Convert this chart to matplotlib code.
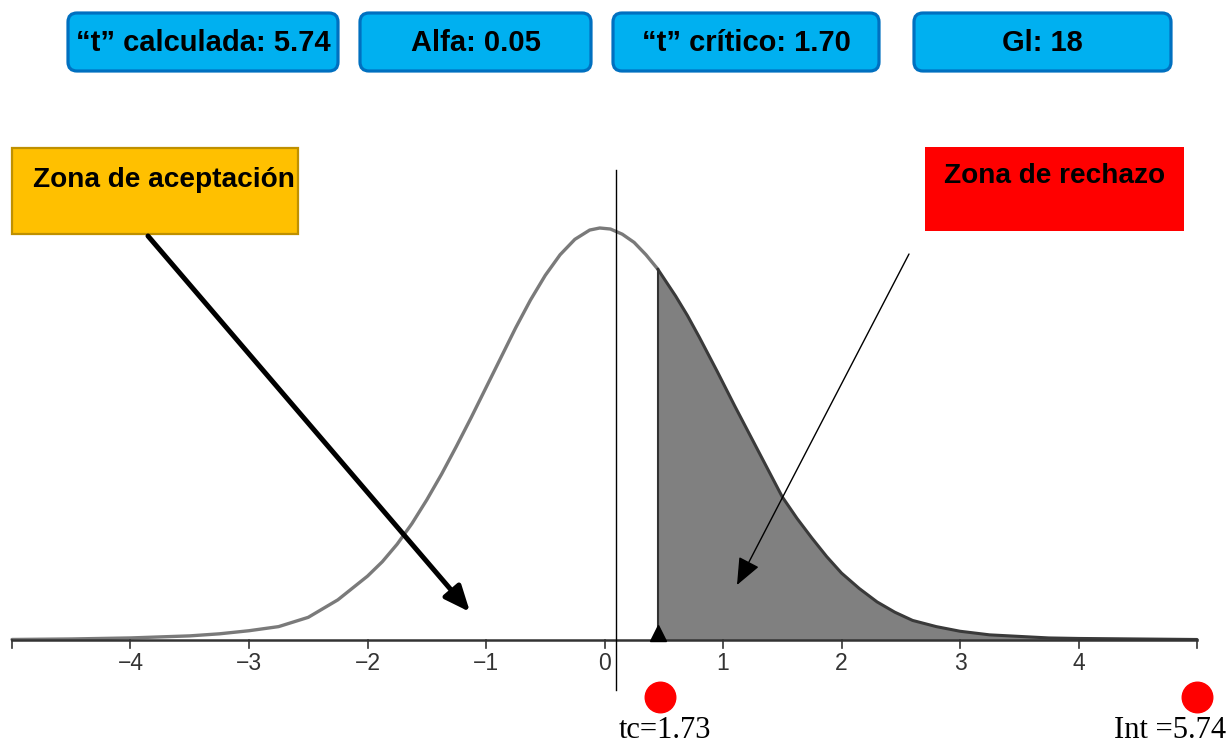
import numpy as np
import matplotlib.pyplot as plt
from matplotlib.patches import FancyBboxPatch, Rectangle

# curve (t value, height of the density)
t_vals = [-5.0, -4.5, -4.0, -3.75, -3.5, -3.25, -3.0, -2.75, -2.5, -2.25, -2.0,
          -1.875, -1.75, -1.625, -1.5, -1.375, -1.25, -1.125, -1.0, -0.875,
          -0.75, -0.625, -0.5, -0.375, -0.25, -0.125, -0.04, 0.05, 0.15, 0.25,
          0.35, 0.45, 0.6, 0.7, 0.8, 0.95, 1.1, 1.2, 1.3, 1.4, 1.5, 1.625,
          1.75, 1.875, 2.0, 2.15, 2.3, 2.45, 2.6, 2.8, 3.0, 3.25, 3.5, 3.75,
          4.0, 4.5, 5.0]
dens = [0.0005, 0.001, 0.002, 0.003, 0.004, 0.006, 0.009, 0.013, 0.022, 0.039,
        0.062, 0.076, 0.093, 0.113, 0.136, 0.161, 0.188, 0.216, 0.245, 0.274,
        0.303, 0.330, 0.354, 0.374, 0.389, 0.398, 0.400, 0.399, 0.394, 0.386,
        0.374, 0.360, 0.334, 0.315, 0.294, 0.261, 0.227, 0.205, 0.183, 0.161,
        0.139, 0.118, 0.099, 0.081, 0.065, 0.050, 0.037, 0.027, 0.019, 0.013,
        0.0085, 0.005, 0.0035, 0.002, 0.0015, 0.001, 0.0005]

t_crit = 0.45       # where the shaded zone starts on the drawing
t_line = 0.097      # thin vertical reference line
tick_pos = [-5, -4, -3, -2, -1, 0, 1, 2, 3, 4, 5]
tick_lab = ["", "−4", "−3", "−2", "−1", "0", "1", "2", "3", "4", ""]
dot_x = [0.468, 5.0]
dot_lab = ["tc=1.73", "Int =5.74"]

top_boxes = ["“t” calculada: 5.74", "Alfa: 0.05", "“t” crítico: 1.70", "Gl: 18"]

W, H = 1227, 745
fig = plt.figure(figsize=(W / 100, H / 100), dpi=100)
plt.rcParams['font.family'] = ['Liberation Sans', 'DejaVu Sans']

# main axes: pixel 12 -> t=-5, pixel 1197 -> t=5, baseline at pixel row 640
ppu = 118.5
yscale = 1030.0
ax = fig.add_axes([0, 0, 1, 1])
ax.set_xlim(-5 - 12 / ppu, 5 + 30 / ppu)
ax.set_ylim(-(H - 640) / yscale, 640 / yscale)
ax.axis('off')

t = np.array(t_vals)
d = np.array(dens)
right = t >= t_crit
left = t <= t_crit

ax.fill_between(t[right], 0, d[right], color='#808080', lw=0, zorder=1)
ax.plot(t[left], d[left], color='#7a7a7a', lw=2.4, zorder=2,
        solid_capstyle='round', solid_joinstyle='round')
ax.plot(t[right], d[right], color='#3a3a3a', lw=2.2, zorder=2,
        solid_capstyle='round', solid_joinstyle='round')
ax.plot([t_crit, t_crit], [0, d[t == t_crit][0]], color='#333333', lw=1.5, zorder=3)

# axis line and ticks
ax.plot([-5, 5], [0, 0], color='#333333', lw=1.8, zorder=3)
for p, lab in zip(tick_pos, tick_lab):
    ax.plot([p, p], [0, -8 / yscale], color='#333333', lw=1.2, zorder=3)
    ax.text(p, -23 / yscale, lab, ha='center', va='center', fontsize=16.5,
            color='#333333')

ax.plot([t_line, t_line], [-50 / yscale, 470 / yscale], color='black', lw=1.0, zorder=4)
ax.plot([t_crit], [7 / yscale], marker='^', ms=12, color='black', zorder=5)

for x in dot_x:
    ax.plot([x], [-57 / yscale], marker='o', ms=22, color='red', mec='red',
            clip_on=False, zorder=5)
ax.text(dot_x[0] + 0.04, -90 / yscale, dot_lab[0], ha='center', va='center',
        fontsize=22, family=['Liberation Serif', 'DejaVu Serif'])
ax.text(5 + 29 / ppu, -90 / yscale, dot_lab[1], ha='right', va='center',
        fontsize=22, family=['Liberation Serif', 'DejaVu Serif'])

# overlay in pixel coordinates for boxes and arrows
ov = fig.add_axes([0, 0, 1, 1])
ov.set_xlim(0, W)
ov.set_ylim(H, 0)
ov.axis('off')
ov.patch.set_alpha(0)

box_x = [(68, 338), (360, 591), (613, 879), (914, 1171)]
for (x0, x1), lab in zip(box_x, top_boxes):
    ov.add_patch(FancyBboxPatch((x0, 13), x1 - x0, 58,
                                boxstyle="round,pad=0,rounding_size=9",
                                fc='#00B0F0', ec='#0070C0', lw=2.3))
    ov.text((x0 + x1) / 2, 43, lab, ha='center', va='center', fontsize=21,
            fontweight='bold', color='black')

ov.add_patch(Rectangle((12, 148), 286, 86, fc='#FFC000', ec='#BF9000', lw=1.6))
ov.text(33, 180, "Zona de aceptación", ha='left', va='center', fontsize=20.2,
        fontweight='bold')
ov.add_patch(Rectangle((925, 147), 259, 84, fc='#FF0000', ec='none'))
ov.text(1055, 176, "Zona de rechazo", ha='center', va='center', fontsize=20.2,
        fontweight='bold')

ov.annotate("", xy=(470, 612), xytext=(148, 236),
            arrowprops=dict(arrowstyle='-|>,head_length=0.7,head_width=0.3',
                            lw=3.6, color='black', mutation_scale=22,
                            shrinkA=0, shrinkB=0))
ov.annotate("", xy=(737, 585), xytext=(909, 254),
            arrowprops=dict(arrowstyle='-|>,head_length=0.6,head_width=0.25',
                            lw=1.0, color='black', mutation_scale=28,
                            shrinkA=0, shrinkB=0))

fig.savefig('out.png', dpi=100)
